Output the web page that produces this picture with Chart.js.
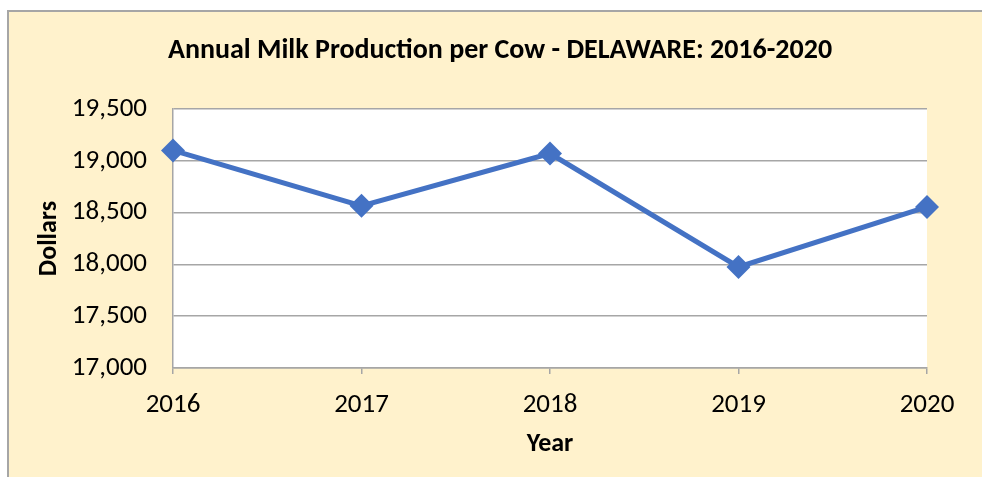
<!DOCTYPE html>
<html>
<head>
<meta charset="utf-8">
<script src="https://cdn.jsdelivr.net/npm/chart.js@4.4.1/dist/chart.umd.min.js"></script>
<style>
  html, body { margin: 0; background: #fff; overflow: hidden; width: 982px; height: 477px; }
  #frame {
    position: absolute; left: 7px; top: 10px;
    width: 973px; height: 465px;
    background: #fff2cc;
    border-top: 2px solid #a6a6a6;
    border-left: 2px solid #a6a6a6;
  }
  #wrap { position: absolute; left: 0; top: 0; width: 982px; height: 477px; }
</style>
</head>
<body>
<div id="frame"></div>
<div id="wrap"><canvas id="chart" width="982" height="477"></canvas></div>
<script>
const years = ['2016', '2017', '2018', '2019', '2020'];
const milkPerCow = [19100, 18565, 19070, 17975, 18555];
const yTicks = [17000, 17500, 18000, 18500, 19000, 19500];
const chartTitle = 'Annual Milk Production per Cow - DELAWARE: 2016-2020';

const FONT = 'Carlito, Lato, sans-serif';
const GRID = '#a6a6a6';

// white plot area behind the grid + title centred on the whole frame
const plotBg = {
  id: 'plotBg',
  beforeDraw(chart) {
    const { ctx, chartArea: a } = chart;
    ctx.save();
    ctx.fillStyle = '#ffffff';
    ctx.fillRect(a.left, a.top, a.right - a.left, a.bottom - a.top);
    ctx.restore();
  },
  afterDraw(chart) {
    const ctx = chart.ctx;
    ctx.save();
    ctx.fillStyle = '#000';
    ctx.font = 'bold 28px ' + FONT;
    ctx.textAlign = 'center';
    ctx.textBaseline = 'alphabetic';
    ctx.fillText(chartTitle, 500, 58);
    ctx.restore();
  }
};

new Chart(document.getElementById('chart'), {
  type: 'line',
  data: {
    labels: years,
    datasets: [{
      data: milkPerCow,
      borderColor: '#4472c4',
      backgroundColor: '#4472c4',
      borderWidth: 5,
      pointStyle: 'rectRot',
      pointRadius: 12,
      pointBorderWidth: 0,
      pointBackgroundColor: '#4472c4',
      tension: 0,
      clip: false
    }]
  },
  options: {
    responsive: false,
    animation: false,
    layout: { padding: { left: 0, right: 55, top: 109, bottom: 0 } },
    plugins: {
      legend: { display: false },
      tooltip: { enabled: false },
      title: { display: false }
    },
    scales: {
      x: {
        offset: false,
        afterFit(s) { s.height = 109; },
        grid: { drawOnChartArea: false, drawTicks: true, tickLength: 6, color: GRID, lineWidth: 1.5 },
        border: { display: true, color: GRID, width: 1.5 },
        ticks: { color: '#000', font: { family: FONT, size: 27 }, padding: 15, maxRotation: 0 },
        title: {
          display: true, text: 'Year', color: '#000',
          font: { family: FONT, size: 26, weight: 'bold', lineHeight: 1.2 },
          padding: { top: 0, bottom: 17 }
        }
      },
      y: {
        min: yTicks[0],
        max: yTicks[yTicks.length - 1],
        afterFit(s) { s.width = 173; },
        afterBuildTicks(s) { s.ticks = yTicks.map(v => ({ value: v })); },
        grid: { color: GRID, lineWidth: 1.5, drawTicks: false },
        border: { display: true, color: GRID, width: 1.5 },
        ticks: {
          color: '#000',
          font: { family: FONT, size: 27 },
          padding: 26,
          callback: v => v.toLocaleString('en-US')
        },
        title: {
          display: true, text: 'Dollars', color: '#000',
          font: { family: FONT, size: 26, weight: 'bold', lineHeight: 1.2 },
          padding: { top: 34, bottom: 0 }
        }
      }
    }
  },
  plugins: [plotBg]
});
</script>
</body>
</html>
